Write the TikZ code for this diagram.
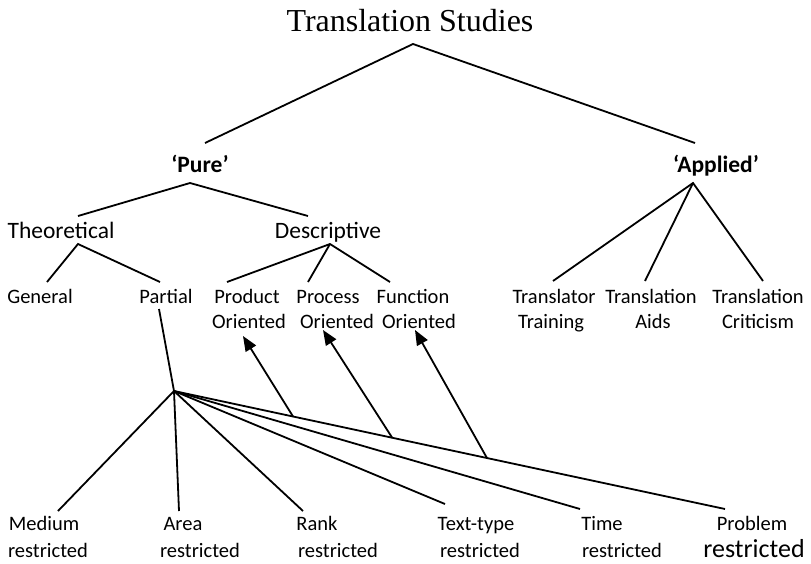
\documentclass[tikz,border=0pt]{standalone}
\usepackage{fontspec}
\setmainfont{Carlito}
\newfontfamily\titlefont{Liberation Serif}
\usetikzlibrary{arrows.meta,calc}
\begin{document}
\begin{tikzpicture}[x=1pt,y=-1pt,
  lblS/.style={anchor=base,inner sep=0pt,font=\fontsize{20.5pt}{24pt}\selectfont},
  lblL/.style={anchor=base,inner sep=0pt,font=\fontsize{23.5pt}{28pt}\selectfont},
  lblB/.style={anchor=base,inner sep=0pt,font=\fontsize{23.5pt}{28pt}\selectfont\bfseries},
  link/.style={line width=1.8pt},
  arr/.style={line width=1.8pt,-{Triangle[length=15pt,width=12pt]}}]
\useasboundingbox[fill=white] (0,0) rectangle (811,563);

% title
\node[anchor=base,inner sep=0pt,font=\titlefont\fontsize{32pt}{36pt}\selectfont] (ts) at (410,31) {Translation Studies};
\coordinate (tsA) at (413,44);
\coordinate (pureT) at (205,143);
\coordinate (applT) at (695,143);
\draw[link] (pureT) -- (tsA) -- (applT);

% level 2
\node[lblB] (pure) at (200,172) {‘Pure’};
\node[lblB] (appl) at (716,172) {‘Applied’};
\coordinate (pureA) at (190,183);
\coordinate (applA) at (693,183);
\coordinate (theoT) at (78,216);
\coordinate (descT) at (308,216);
\draw[link] (theoT) -- (pureA) -- (descT);

% level 3
\node[lblL] (theo) at (61,238) {Theoretical};
\node[lblL] (desc) at (328,238) {Descriptive};
\coordinate (theoA) at (78,244);
\coordinate (descA) at (330,244);
\coordinate (genT) at (47,282);
\coordinate (partT) at (160,282);
\draw[link] (genT) -- (theoA) -- (partT);
\coordinate (prodT) at (227,282);
\coordinate (procT) at (308,282);
\coordinate (funcT) at (390,282);
\draw[link] (prodT) -- (descA) -- (funcT);
\draw[link] (descA) -- (procT);

% applied children
\coordinate (trT) at (553,281);
\coordinate (aidT) at (645,281);
\coordinate (criT) at (763,281);
\draw[link] (trT) -- (applA) -- (criT);
\draw[link] (applA) -- (aidT);

% level 4 labels
\node[lblS] (gen) at (40,303) {General};
\node[lblS] (part) at (166,303) {Partial};
\node[lblS] (prod1) at (247,303) {Product};
\node[lblS] (prod2) at (249,328) {Oriented};
\node[lblS] (proc1) at (328,303) {Process};
\node[lblS] (proc2) at (337,328) {Oriented};
\node[lblS] (func1) at (413,303) {Function};
\node[lblS] (func2) at (419,328) {Oriented};
\node[lblS] (tr1) at (554,303) {Translator};
\node[lblS] (tr2) at (551,328) {Training};
\node[lblS] (aid1) at (651,303) {Translation};
\node[lblS] (aid2) at (653,328) {Aids};
\node[lblS] (cri1) at (758,303) {Translation};
\node[lblS] (cri2) at (758,328) {Criticism};

% partial fan
\coordinate (partB) at (159,309);
\coordinate (hub) at (174,391);
\draw[link] (partB) -- (hub);
\coordinate (medT) at (58,511);
\coordinate (areaT) at (179,511);
\coordinate (rankT) at (303,511);
\coordinate (textT) at (445,504);
\coordinate (timeT) at (580,509);
\coordinate (probT) at (725,509);
\foreach \c in {medT,areaT,rankT,textT,timeT,probT}
  \draw[link] (hub) -- (\c);

% arrows
\coordinate (prodArr) at (243,336);
\coordinate (procArr) at (323,330);
\coordinate (funcArr) at (415,330);
\draw[arr] ($(hub)!0.216!(probT)$) -- (prodArr);
\draw[arr] ($(hub)!0.396!(probT)$) -- (procArr);
\draw[arr] ($(hub)!0.568!(probT)$) -- (funcArr);

% bottom labels
\node[lblS] (med1) at (44,530) {Medium};
\node[lblS] (med2) at (48,557) {restricted};
\node[lblS] (area1) at (183,530) {Area};
\node[lblS] (area2) at (200,557) {restricted};
\node[lblS] (rank1) at (317,530) {Rank};
\node[lblS] (rank2) at (338,557) {restricted};
\node[lblS] (text1) at (476,530) {Text-type};
\node[lblS] (text2) at (480,557) {restricted};
\node[lblS] (time1) at (602,530) {Time};
\node[lblS] (time2) at (622,557) {restricted};
\node[lblS] (prob1) at (752,530) {Problem};
\node[anchor=base,inner sep=0pt,font=\fontsize{26pt}{30pt}\selectfont] (prob2) at (754,557) {restricted};
\end{tikzpicture}
\end{document}
